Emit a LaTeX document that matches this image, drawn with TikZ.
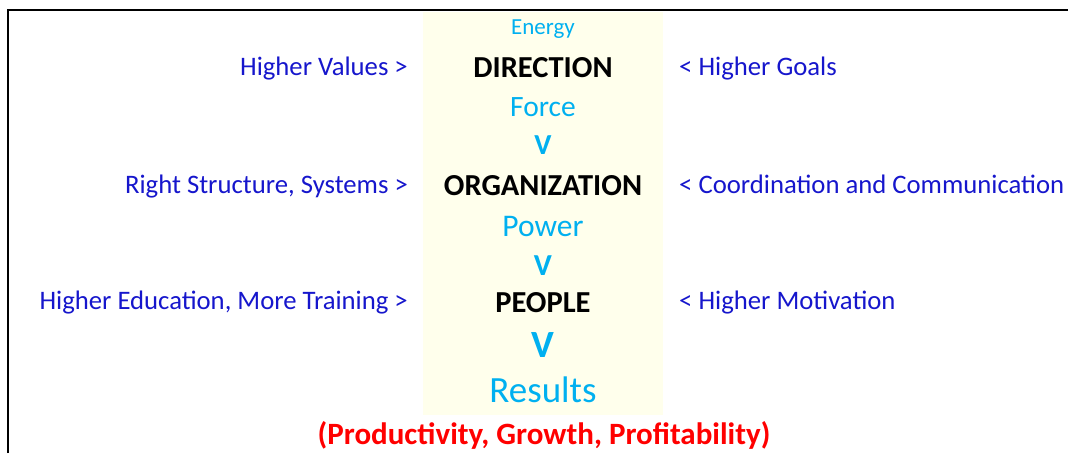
\documentclass[tikz,border=0pt]{standalone}
\usepackage{fontspec}
\setmainfont{Carlito}
\usetikzlibrary{positioning}
\definecolor{sideblue}{RGB}{22,22,204}
\definecolor{skyblue}{RGB}{0,176,240}
\definecolor{colyellow}{RGB}{255,255,236}
\definecolor{resred}{RGB}{255,0,0}

\begin{document}
\begin{tikzpicture}[x=1pt, y=-1pt,
  side/.style={anchor=base, inner sep=0pt, text=sideblue, font=\fontsize{26.7}{30}\selectfont},
  lside/.style={side, anchor=base east},
  rside/.style={side, anchor=base west},
  head/.style={anchor=base, inner sep=0pt, font=\bfseries\fontsize{30.5}{34}\selectfont},
  flow/.style={anchor=base, inner sep=0pt, text=skyblue, font=\fontsize{#1}{#1}\selectfont},
  down/.style={anchor=base, inner sep=0pt, text=skyblue, font=\bfseries\fontsize{#1}{#1}\selectfont}
]
\useasboundingbox (0,0) rectangle (1068,453);
% frame and centre column
\fill[colyellow] (423,12) rectangle (663,415);
\draw[line width=2pt] (8.3,453) -- (8.3,10) -- (1068,10);

% centre column
\node[flow=23] (energy) at (543,34) {Energy};
\node[head] (direction) at (543,77) {DIRECTION};
\node[flow=29.5] (force) at (543,116) {Force};
\node[down=29] (v1) at (543,154) {V};
\node[head] (organization) at (543,195) {ORGANIZATION};
\node[flow=31.5] (power) at (543,236) {Power};
\node[down=30.5] (v2) at (543,275) {V};
\node[head] (people) at (543,312) {PEOPLE};
\node[down=38.5] (v3) at (543,357) {V};
\node[flow=37] (results) at (543,402) {Results};
\node[anchor=base, inner sep=0pt, text=resred, font=\bfseries\fontsize{31}{34}\selectfont] (gains) at (544,444) {(Productivity, Growth, Profitability)};

% left and right inputs
\node[lside] (values) at (408,75) {Higher Values >};
\node[rside] (goals) at (679,75) {< Higher Goals};
\node[lside] (structure) at (408,193) {Right Structure, Systems >};
\node[rside] (coord) at (679,193) {< Coordination and Communication};
\node[lside] (education) at (408,309) {Higher Education, More Training >};
\node[rside] (motivation) at (679,309) {< Higher Motivation};
\end{tikzpicture}
\end{document}
